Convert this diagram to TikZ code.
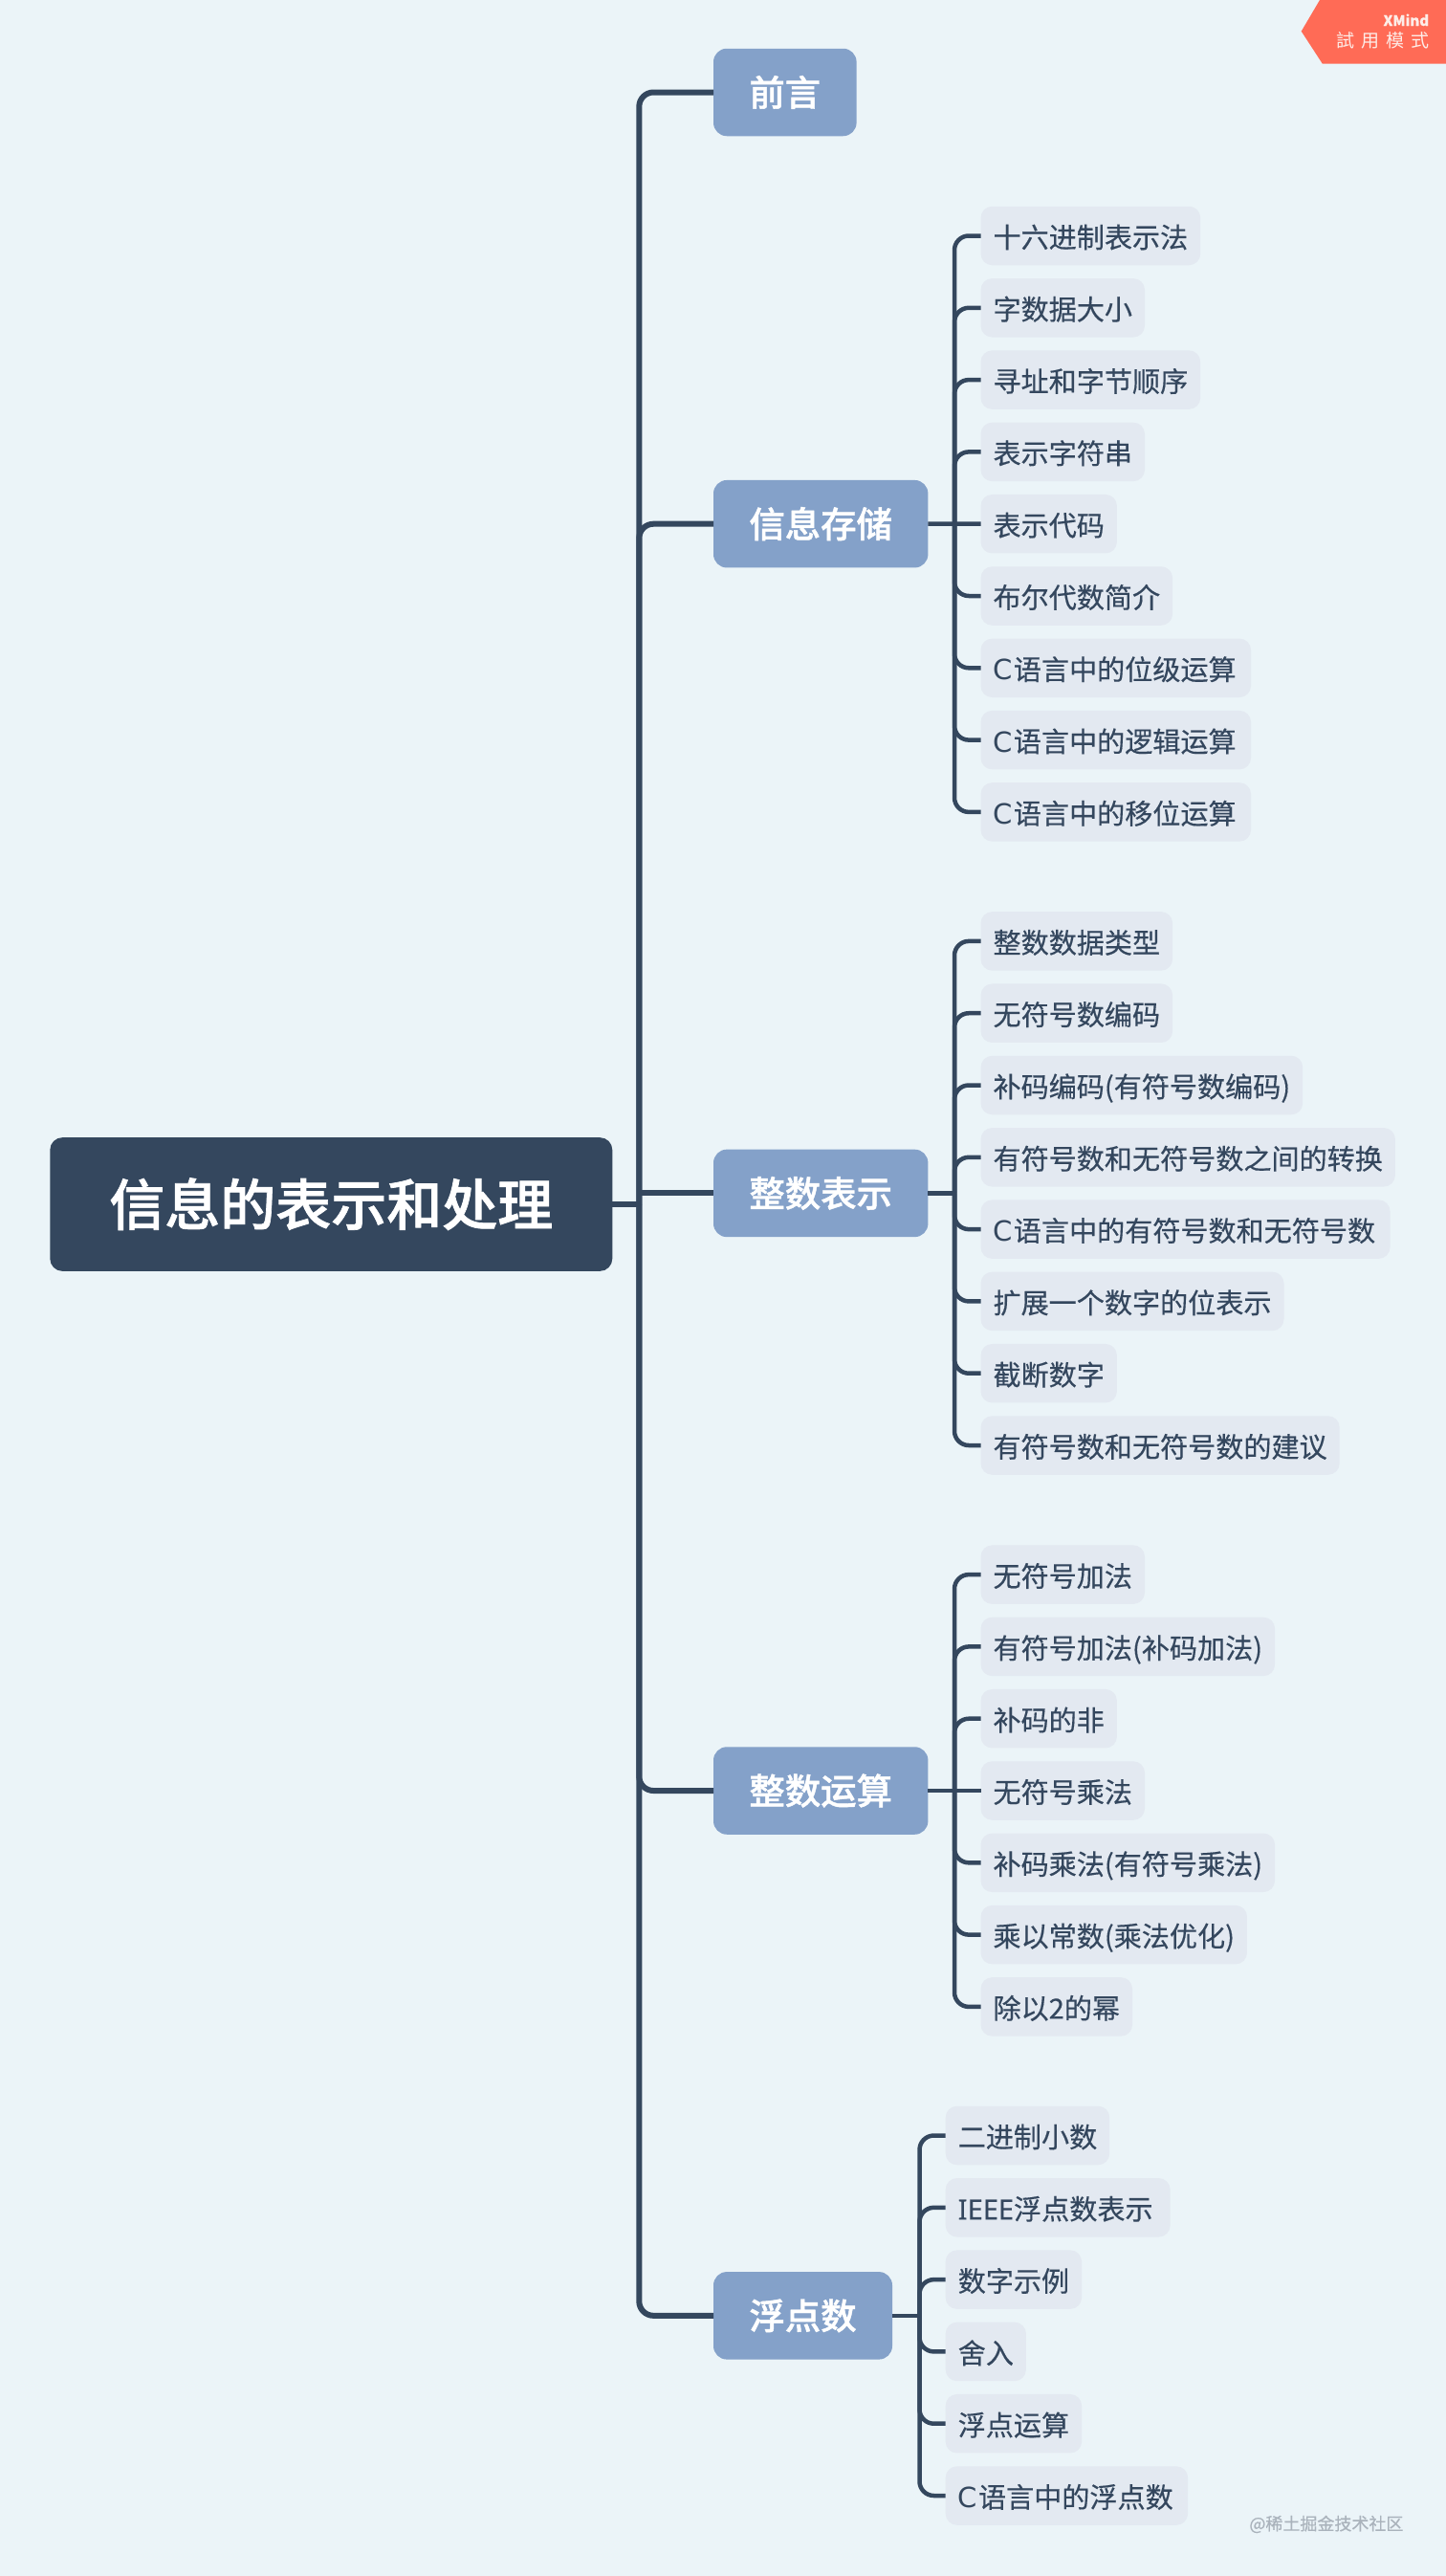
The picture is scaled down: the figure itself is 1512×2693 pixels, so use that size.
\documentclass[tikz,border=0pt]{standalone}
\usepackage{fontspec}
\setsansfont[FakeBold=0.4]{Noto Sans CJK SC}
\newfontfamily\twfont{Noto Sans CJK TC}
\newfontfamily\heavyfont[FakeBold=1.2]{Noto Sans CJK SC Medium}
\newfontfamily\latinfont{DejaVu Sans}
\newfontfamily\ieeefont[FakeBold=0.4]{Noto Sans}
\newcommand{\clangleaf}[1]{{\latinfont C}\kern1pt#1\kern2.4pt}
\usepackage{xcolor}
\usepackage{tikz}
\usetikzlibrary{positioning}
\definecolor{pagebg}{RGB}{235, 244, 248}
\definecolor{primary}{RGB}{52, 71, 94}
\definecolor{topicfill}{RGB}{132, 161, 201}
\definecolor{leaffill}{RGB}{227, 233, 241}
\definecolor{badgefill}{RGB}{255, 107, 86}
\definecolor{badgetext}{RGB}{253, 237, 232}
\definecolor{marktext}{RGB}{170, 179, 188}
\tikzset{
  font=\sffamily,
  rootblock/.style={
    rectangle, rounded corners=13pt, fill=primary, text=white, outer sep=0pt,
    font=\heavyfont\fontsize{58}{68}\selectfont,
    minimum height=139.7pt, inner xsep=62pt, inner ysep=0pt,
    text height=51pt, text depth=7pt
  },
  topicblock/.style={
    rectangle, rounded corners=14pt, fill=topicfill, text=white, outer sep=0pt,
    font=\heavyfont\fontsize{37.4}{44}\selectfont,
    minimum height=91.5pt, inner xsep=37.4pt, inner ysep=0pt,
    text height=33pt, text depth=4.5pt, anchor=west
  },
  leafblock/.style={
    rectangle, rounded corners=12pt, fill=leaffill, text=primary, outer sep=0pt,
    font=\sffamily\fontsize{29.1}{34}\selectfont,
    minimum height=61.5pt, inner xsep=13pt, inner ysep=0pt,
    text height=27pt, text depth=2pt
  },
  nextleaf/.style={leafblock, below=13.8pt of #1.south west, anchor=north west},
  mainline/.style={draw=primary, line width=6pt, rounded corners=15pt},
  leafline/.style={draw=primary, line width=4.5pt, rounded corners=15pt}
}
\begin{document}
\begin{tikzpicture}[x=1pt, y=-1pt]
  \fill[pagebg] (0,0) rectangle (1512,2693);
  \useasboundingbox (0,0) rectangle (1512,2693);

  \node[rootblock, anchor=west] (root) at (52.3,1259) {信息的表示和处理};
  \coordinate (trunk) at (668.3,1259);

  \node[topicblock] (preface) at (746,96.5) {前言};
  \node[topicblock] (storage) at (746,547.7) {信息存储};
  \node[topicblock] (intrep) at (746,1247.4) {整数表示};
  \node[topicblock] (intarith) at (746,1872) {整数运算};
  \node[topicblock] (floatnum) at (746,2420.8) {浮点数};

  \coordinate (storagebus) at (998,547.7);
  \coordinate (intrepbus) at (998,1247.4);
  \coordinate (intarithbus) at (998,1872);
  \coordinate (floatbus) at (961.5,2420.8);

  \node[leafblock, anchor=west] (hexnote) at (1025.5,246.5) {十六进制表示法};
  \node[nextleaf=hexnote] (wordsize) {字数据大小};
  \node[nextleaf=wordsize] (addrorder) {寻址和字节顺序};
  \node[nextleaf=addrorder] (strings) {表示字符串};
  \node[nextleaf=strings] (code) {表示代码};
  \node[nextleaf=code] (boolalg) {布尔代数简介};
  \node[nextleaf=boolalg] (bitops) {\clangleaf{语言中的位级运算}};
  \node[nextleaf=bitops] (logicops) {\clangleaf{语言中的逻辑运算}};
  \node[nextleaf=logicops] (shiftops) {\clangleaf{语言中的移位运算}};

  \node[leafblock, anchor=west] (inttypes) at (1025.5,983.9) {整数数据类型};
  \node[nextleaf=inttypes] (unsignedenc) {无符号数编码};
  \node[nextleaf=unsignedenc] (twoscomp) {补码编码(有符号数编码)};
  \node[nextleaf=twoscomp] (convert) {有符号数和无符号数之间的转换};
  \node[nextleaf=convert] (clang) {\clangleaf{语言中的有符号数和无符号数}};
  \node[nextleaf=clang] (extend) {扩展一个数字的位表示};
  \node[nextleaf=extend] (truncate) {截断数字};
  \node[nextleaf=truncate] (advice) {有符号数和无符号数的建议};

  \node[leafblock, anchor=west] (uadd) at (1025.5,1646.1) {无符号加法};
  \node[nextleaf=uadd] (tadd) {有符号加法(补码加法)};
  \node[nextleaf=tadd] (tneg) {补码的非};
  \node[nextleaf=tneg] (umul) {无符号乘法};
  \node[nextleaf=umul] (tmul) {补码乘法(有符号乘法)};
  \node[nextleaf=tmul] (constmul) {乘以常数(乘法优化)};
  \node[nextleaf=constmul] (powdiv) {除以2的幂};

  \node[leafblock, anchor=west] (binfrac) at (988.7,2232.5) {二进制小数};
  \node[nextleaf=binfrac] (ieee) {{\ieeefont IEEE}浮点数表示\kern5pt};
  \node[nextleaf=ieee] (numexample) {数字示例};
  \node[nextleaf=numexample] (rounding) {舍入};
  \node[nextleaf=rounding] (floatops) {浮点运算};
  \node[nextleaf=floatops] (cfloat) {\clangleaf{语言中的浮点数}};

  \draw[mainline] (root) -- (trunk);
  \draw[mainline] (trunk) |- (preface);
  \draw[mainline] (trunk) |- (storage);
  \draw[mainline] (trunk|-intrep) -- (intrep);
  \draw[mainline] (trunk) |- (intarith);
  \draw[mainline] (trunk) |- (floatnum);

  \draw[leafline] (storage) -- (code);
  \draw[leafline] (storagebus) |- (hexnote);
  \draw[leafline] (storagebus) |- (wordsize);
  \draw[leafline] (storagebus) |- (addrorder);
  \draw[leafline] (storagebus) |- (strings);
  \draw[leafline] (storagebus) |- (boolalg);
  \draw[leafline] (storagebus) |- (bitops);
  \draw[leafline] (storagebus) |- (logicops);
  \draw[leafline] (storagebus) |- (shiftops);

  \draw[leafline] (intrep) -- (intrepbus);
  \draw[leafline] (intrepbus) |- (inttypes);
  \draw[leafline] (intrepbus) |- (unsignedenc);
  \draw[leafline] (intrepbus) |- (twoscomp);
  \draw[leafline] (intrepbus) |- (convert);
  \draw[leafline] (intrepbus) |- (clang);
  \draw[leafline] (intrepbus) |- (extend);
  \draw[leafline] (intrepbus) |- (truncate);
  \draw[leafline] (intrepbus) |- (advice);

  \draw[leafline] (intarith) -- (umul);
  \draw[leafline] (intarithbus) |- (uadd);
  \draw[leafline] (intarithbus) |- (tadd);
  \draw[leafline] (intarithbus) |- (tneg);
  \draw[leafline] (intarithbus) |- (tmul);
  \draw[leafline] (intarithbus) |- (constmul);
  \draw[leafline] (intarithbus) |- (powdiv);

  \draw[leafline] (floatnum) -- (floatbus);
  \draw[leafline] (floatbus) |- (binfrac);
  \draw[leafline] (floatbus) |- (ieee);
  \draw[leafline] (floatbus) |- (numexample);
  \draw[leafline] (floatbus) |- (rounding);
  \draw[leafline] (floatbus) |- (floatops);
  \draw[leafline] (floatbus) |- (cfloat);

  \fill[badgefill] (1360.7,32.7) -- (1380,0) -- (1512,0) -- (1512,66.5) -- (1382.7,66.5) -- cycle;
  \node[anchor=base east, inner sep=0pt, text=badgetext, font=\sffamily\bfseries\fontsize{15}{18}\selectfont] (xmind) at (1494.3,27) {XMind};
  \node[anchor=base east, inner sep=0pt, text=badgetext, font=\twfont\fontsize{19}{22}\selectfont] (trial) at (1494.3,49.5) {試\hspace{7pt}用\hspace{7pt}模\hspace{7pt}式};

  \node[anchor=base east, inner sep=0pt, text=marktext, font=\sffamily\fontsize{18}{22}\selectfont] (watermark) at (1467.6,2645) {@稀土掘金技术社区};
\end{tikzpicture}
\end{document}
